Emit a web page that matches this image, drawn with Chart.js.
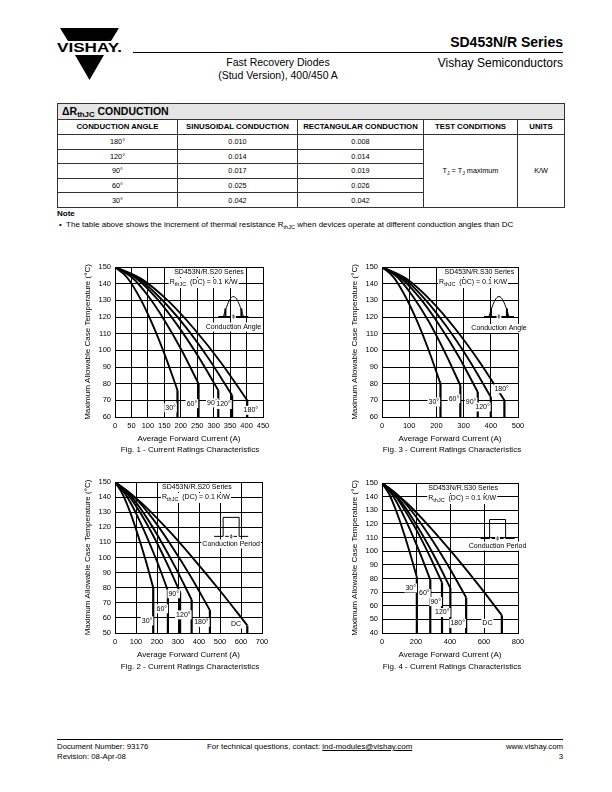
<!DOCTYPE html>
<html>
<head>
<meta charset="utf-8">
<script src="https://cdn.jsdelivr.net/npm/chart.js@4.4.0/dist/chart.umd.min.js"></script>
<style>
  body { margin: 0; background: #fff; font-family: "Liberation Sans", Arial, sans-serif; color: #000; }
  #page { position: relative; width: 612px; height: 792px; overflow: hidden; }
  .t { position: absolute; white-space: nowrap; line-height: 1; }
  .rule { position: absolute; background: #000; height: 1px; }
  canvas { position: absolute; }
  #tbl { position: absolute; left: 57px; top: 103px; width: 507px; border-collapse: collapse; table-layout: fixed; }
  #tbl td { border: 1px solid #333; padding: 0; text-align: center; font-size: 7.3px; line-height: 1; }
  #tbl tr.hdr td { background: #e4e4e4; text-align: left; font-weight: bold; font-size: 10.5px; padding-left: 4px; height: 15px; }
  #tbl tr.cols td { font-weight: bold; font-size: 7.8px; height: 14px; }
  #tbl tr.row td { height: 13.6px; }
  sub { font-size: 70%; vertical-align: -2px; line-height: 0; }
  #tbl tr.hdr sub { font-size: 75%; }
</style>
</head>
<body>
<div id="page">
  <svg class="t" style="left:55px;top:27px" width="70" height="56" viewBox="0 0 70 56">
    <polygon points="5,1 64,1 56,14 13,14" fill="#000"/>
    <text x="2" y="25" font-family="Liberation Sans, Arial" font-weight="bold" font-size="12.5" textLength="65" lengthAdjust="spacingAndGlyphs">VISHAY.</text>
    <polygon points="20,28 49,28 34.5,53" fill="#000"/>
  </svg>
  <div class="t" style="right:49px;top:35px;font-size:14px;font-weight:bold">SD453N/R Series</div>
  <div class="rule" style="left:133px;top:52px;width:430px"></div>
  <div class="t" style="left:178px;width:200px;text-align:center;top:57px;font-size:10.5px">Fast Recovery Diodes</div>
  <div class="t" style="left:178px;width:200px;text-align:center;top:70px;font-size:10.5px">(Stud Version), 400/450 A</div>
  <div class="t" style="right:49px;top:57px;font-size:12px">Vishay Semiconductors</div>

  <table id="tbl">
    <colgroup><col style="width:120px"><col style="width:120px"><col style="width:126px"><col style="width:94px"><col style="width:47px"></colgroup>
    <tbody id="tbody">
      <tr class="hdr"><td colspan="5">&#916;R<sub>thJC</sub> CONDUCTION</td></tr>
      <tr class="cols"><td>CONDUCTION ANGLE</td><td>SINUSOIDAL CONDUCTION</td><td>RECTANGULAR CONDUCTION</td><td>TEST CONDITIONS</td><td>UNITS</td></tr>
    </tbody>
  </table>
  <div class="t" style="left:57px;top:210px;font-size:8px;font-weight:bold">Note</div>
  <div class="t" style="left:59px;top:221px;font-size:8px">&#8226;&nbsp; The table above shows the increment of thermal resistance R<sub>thJC</sub> when devices operate at different conduction angles than DC</div>

  <canvas id="fig1" width="200" height="189" style="left:80px;top:258px"></canvas>
  <canvas id="fig3" width="200" height="189" style="left:347px;top:258px"></canvas>
  <canvas id="fig2" width="200" height="190" style="left:80px;top:473px"></canvas>
  <canvas id="fig4" width="200" height="189" style="left:347px;top:474px"></canvas>

  <div class="t" style="left:90px;width:200px;text-align:center;top:446px;font-size:8px">Fig. 1 - Current Ratings Characteristics</div>
  <div class="t" style="left:352px;width:200px;text-align:center;top:446px;font-size:8px">Fig. 3 - Current Ratings Characteristics</div>
  <div class="t" style="left:90px;width:200px;text-align:center;top:663px;font-size:8px">Fig. 2 - Current Ratings Characteristics</div>
  <div class="t" style="left:352px;width:200px;text-align:center;top:663px;font-size:8px">Fig. 4 - Current Ratings Characteristics</div>

  <div class="rule" style="left:57px;top:739px;width:506px"></div>
  <div class="t" style="left:57px;top:743px;font-size:7.8px">Document Number: 93176</div>
  <div class="t" style="left:57px;top:753px;font-size:7.8px">Revision: 08-Apr-08</div>
  <div class="t" style="left:207px;top:743px;font-size:7.9px">For technical questions, contact: <span style="text-decoration:underline">ind-modules@vishay.com</span></div>
  <div class="t" style="right:49px;top:743px;font-size:7.8px">www.vishay.com</div>
  <div class="t" style="right:49px;top:753px;font-size:7.8px">3</div>
</div>

<script>
// ---- table values ----
const tableAngles = ['180°', '120°', '90°', '60°', '30°'];
const tableSinusoidal = ['0.010', '0.014', '0.017', '0.025', '0.042'];
const tableRectangular = ['0.008', '0.014', '0.019', '0.026', '0.042'];

// ---- Fig. 1: S20, sinusoidal ----
const fig1Angles = ['30°', '60°', '90°', '120°', '180°'];
const fig1Current = [
  [0, 38, 76, 114, 152, 190],
  [0, 51, 102, 152, 203, 254],
  [0, 63, 126, 188, 251, 314],
  [0, 71, 142, 214, 285, 356],
  [0, 80, 161, 241, 322, 402]
];
const fig1Temp = [
  [150, 143.4, 131.3, 115.6, 97.0, 76],
  [150, 143.8, 132.3, 117.5, 99.9, 80],
  [150, 143.4, 131.3, 115.6, 97.0, 76],
  [150, 143.1, 130.5, 114.2, 94.9, 73],
  [150, 142.9, 129.8, 112.8, 92.7, 70]
];
const fig1XTicks = [0, 50, 100, 150, 200, 250, 300, 350, 400, 450];
const fig1YTicks = [60, 70, 80, 90, 100, 110, 120, 130, 140, 150];

// ---- Fig. 3: S30, sinusoidal ----
const fig3Angles = ['30°', '60°', '90°', '120°', '180°'];
const fig3Current = [
  [0, 43, 86, 129, 172, 215],
  [0, 58, 115, 173, 230, 288],
  [0, 70, 141, 211, 282, 352],
  [0, 80, 160, 240, 320, 400],
  [0, 90, 180, 270, 360, 450]
];
const fig3Temp = [
  [150, 143.8, 132.3, 117.5, 99.9, 80],
  [150, 143.7, 132.0, 117.0, 99.2, 79],
  [150, 143.3, 131.0, 115.1, 96.3, 75],
  [150, 143.1, 130.3, 113.7, 94.2, 72],
  [150, 142.9, 129.8, 112.8, 92.7, 70]
];
const fig3XTicks = [0, 100, 200, 300, 400, 500];
const fig3YTicks = [60, 70, 80, 90, 100, 110, 120, 130, 140, 150];

// ---- Fig. 2: S20, rectangular ----
const fig2Angles = ['30°', '60°', '90°', '120°', '180°', 'DC'];
const fig2Current = [
  [0, 36, 73, 109, 146, 182],
  [0, 50, 101, 151, 202, 252],
  [0, 62, 124, 186, 248, 310],
  [0, 73, 146, 219, 292, 365],
  [0, 90, 181, 271, 362, 452],
  [0, 126, 252, 378, 504, 630]
];
const fig2Temp = [
  [150, 142.0, 129.7, 114.9, 98.2, 80],
  [150, 141.8, 129.1, 113.9, 96.7, 78],
  [150, 141.7, 128.8, 113.4, 96.0, 77],
  [150, 141.1, 127.4, 110.8, 92.3, 72],
  [150, 140.3, 125.4, 107.3, 87.1, 65],
  [150, 136.2, 118.4, 98.5, 77.3, 55]
];
const fig2XTicks = [0, 100, 200, 300, 400, 500, 600, 700];
const fig2YTicks = [50, 60, 70, 80, 90, 100, 110, 120, 130, 140, 150];

// ---- Fig. 4: S30, rectangular ----
const fig4Angles = ['30°', '60°', '90°', '120°', '180°', 'DC'];
const fig4Current = [
  [0, 41, 82, 123, 164, 205],
  [0, 57, 114, 170, 227, 284],
  [0, 71, 141, 212, 282, 353],
  [0, 80, 161, 241, 322, 402],
  [0, 99, 198, 297, 396, 495],
  [0, 141, 282, 423, 564, 705]
];
const fig4Temp = [
  [150, 142.1, 130.0, 115.4, 98.9, 81],
  [150, 141.9, 129.4, 114.4, 97.5, 79],
  [150, 141.7, 128.8, 113.4, 96.0, 77],
  [150, 141.2, 127.7, 111.3, 93.0, 73],
  [150, 140.4, 125.6, 107.8, 87.8, 66],
  [150, 135.9, 117.7, 97.4, 75.8, 53]
];
const fig4XTicks = [0, 200, 400, 600, 800];
const fig4YTicks = [40, 50, 60, 70, 80, 90, 100, 110, 120, 130, 140, 150];

const FONT = '"Liberation Sans", Arial, sans-serif';

// table body
const tbody = document.getElementById('tbody');
tableAngles.forEach((a, i) => {
  const tr = document.createElement('tr');
  tr.className = 'row';
  let html = '<td>' + a + '</td><td>' + tableSinusoidal[i] + '</td><td>' + tableRectangular[i] + '</td>';
  if (i === 0) html += '<td rowspan="5">T<sub>J</sub> = T<sub>J</sub> maximum</td><td rowspan="5">K/W</td>';
  tr.innerHTML = html;
  tbody.appendChild(tr);
});

function tag(ctx, text, x, y, align) {
  const w = ctx.measureText(text).width;
  const x0 = align === 'left' ? x : align === 'right' ? x - w : x - w / 2;
  ctx.fillStyle = '#fff';
  ctx.fillRect(x0 - 1, y - 4.5, w + 2, 9);
  ctx.fillStyle = '#000';
  ctx.textAlign = 'left';
  ctx.textBaseline = 'middle';
  ctx.fillText(text, x0, y);
}

function rthLine(ctx, x, y) {
  const parts = [['R', 7, 0], ['thJC', 5.5, 2], ['  (DC) = 0.1 K/W', 7, 0]];
  let w = 0;
  parts.forEach(p => { ctx.font = p[1] + 'px ' + FONT; w += ctx.measureText(p[0]).width; });
  ctx.fillStyle = '#fff';
  ctx.fillRect(x - 1, y - 4.5, w + 2, 10);
  ctx.fillStyle = '#000';
  ctx.textBaseline = 'middle';
  ctx.textAlign = 'left';
  let cx = x;
  parts.forEach(p => {
    ctx.font = p[1] + 'px ' + FONT;
    ctx.fillText(p[0], cx, y + p[2]);
    cx += ctx.measureText(p[0]).width;
  });
}

function icon(ctx, kind, cx, base, label, ly) {
  ctx.strokeStyle = '#000';
  ctx.fillStyle = '#000';
  ctx.lineWidth = 1;
  const hw = kind === 'sine' ? 10 : 8;
  ctx.beginPath();
  if (kind === 'sine') {
    for (let k = 0; k <= 20; k++) {
      const px = cx - hw + (2 * hw * k) / 20;
      const py = base - 20 * Math.sin(Math.PI * k / 20);
      if (k === 0) ctx.moveTo(px, py); else ctx.lineTo(px, py);
    }
    ctx.stroke();
    ctx.lineWidth = 2;
    ctx.beginPath();
    ctx.moveTo(cx - hw + 2, base - 8); ctx.lineTo(cx - hw + 2, base);
    ctx.moveTo(cx + hw - 2, base - 8); ctx.lineTo(cx + hw - 2, base);
    ctx.stroke();
    ctx.lineWidth = 1;
    ctx.beginPath();
    ctx.moveTo(cx - hw - 5, base); ctx.lineTo(cx + hw + 5, base);
    ctx.stroke();
  } else {
    ctx.moveTo(cx - hw - 9, base); ctx.lineTo(cx - hw, base); ctx.lineTo(cx - hw, base - 19);
    ctx.lineTo(cx + hw, base - 19); ctx.lineTo(cx + hw, base); ctx.lineTo(cx + hw + 9, base);
    ctx.stroke();
    ctx.beginPath();
    ctx.moveTo(cx - hw + 2, base); ctx.lineTo(cx + hw - 2, base);
    ctx.stroke();
  }
  ctx.font = '5px ' + FONT;
  tag(ctx, 'ϕ', cx, base, 'center');
  ctx.font = '7px ' + FONT;
  tag(ctx, label, cx, ly, 'center');
}

function notes(o) {
  return {
    id: 'notes',
    afterDatasetsDraw(chart) {
      const ctx = chart.ctx, a = chart.chartArea;
      const xs = chart.scales.x, ys = chart.scales.y;
      const w = a.right - a.left, h = a.bottom - a.top;
      ctx.save();
      ctx.font = '7px ' + FONT;
      tag(ctx, o.series, a.left + o.seriesAt[0] * w, a.top + 5.5, 'left');
      rthLine(ctx, a.left + o.seriesAt[1] * w, a.top + 15.5);
      icon(ctx, o.icon, a.left + o.iconAt[0] * w, a.top + o.iconAt[1] * h,
        o.icon === 'sine' ? 'Conduction Angle' : 'Conduction Period', a.top + o.iconAt[2] * h);
      ctx.font = '7px ' + FONT;
      o.angles.forEach((t, i) => {
        tag(ctx, t, xs.getPixelForValue(o.labelX[i]), ys.getPixelForValue(o.labelY[i]), o.labelAlign[i]);
      });
      ctx.restore();
    }
  };
}

function buildChart(id, o) {
  const yMin = o.yTicks[0];
  const datasets = [];
  o.current.forEach((xsArr, i) => {
    const pts = xsArr.map((x, j) => ({ x: x, y: o.temp[i][j] }));
    datasets.push({ data: pts, borderColor: '#000', borderWidth: 1.9, pointRadius: 0, showLine: true, cubicInterpolationMode: 'monotone' });
    const last = pts[pts.length - 1];
    datasets.push({ data: [last, { x: last.x, y: yMin }], borderColor: '#000', borderWidth: 2.2, pointRadius: 0, showLine: true });
  });
  const tickFont = { family: FONT, size: 7.5 };
  const titleFont = { family: FONT, size: 8 };
  new Chart(document.getElementById(id), {
    type: 'scatter',
    data: { datasets: datasets },
    options: {
      responsive: false,
      animation: false,
      devicePixelRatio: 1,
      events: [],
      layout: { padding: { top: 9, right: o.padRight, left: 0, bottom: 0 } },
      plugins: { legend: { display: false }, tooltip: { enabled: false } },
      scales: {
        x: {
          type: 'linear',
          min: o.xTicks[0], max: o.xTicks[o.xTicks.length - 1],
          afterBuildTicks: s => { s.ticks = o.xTicks.map(v => ({ value: v })); },
          afterFit: s => { s.height = 30; },
          grid: { color: '#000', lineWidth: 1, drawTicks: false },
          border: { color: '#000', width: 1 },
          ticks: { color: '#000', font: tickFont, padding: 4, maxRotation: 0, autoSkip: false },
          title: { display: true, text: 'Average Forward Current (A)', color: '#000', font: titleFont, padding: { top: 0, bottom: 3 } }
        },
        y: {
          type: 'linear',
          min: o.yTicks[0], max: o.yTicks[o.yTicks.length - 1],
          afterBuildTicks: s => { s.ticks = o.yTicks.map(v => ({ value: v })); },
          afterFit: s => { s.width = 35; },
          grid: { color: '#000', lineWidth: 1, drawTicks: false },
          border: { color: '#000', width: 1 },
          ticks: { color: '#000', font: tickFont, padding: 4, autoSkip: false },
          title: { display: true, text: 'Maximum Allowable Case Temperature (°C)', color: '#000', font: titleFont, padding: { top: 3, bottom: 0 } }
        }
      }
    },
    plugins: [notes(o)]
  });
}

buildChart('fig1', {
  current: fig1Current, temp: fig1Temp, xTicks: fig1XTicks, yTicks: fig1YTicks, padRight: 17,
  series: 'SD453N/R.S20 Series', seriesAt: [0.40, 0.37], icon: 'sine', iconAt: [0.80, 0.33, 0.40],
  angles: fig1Angles, labelX: [185, 250, 312, 352, 413], labelY: [65.5, 68, 68.5, 67.5, 64],
  labelAlign: ['right', 'right', 'right', 'right', 'center']
});
buildChart('fig3', {
  current: fig3Current, temp: fig3Temp, xTicks: fig3XTicks, yTicks: fig3YTicks, padRight: 29,
  series: 'SD453N/R.S30 Series', seriesAt: [0.46, 0.42], icon: 'sine', iconAt: [0.86, 0.33, 0.41],
  angles: fig3Angles, labelX: [210, 284, 347, 396, 440], labelY: [69, 71, 69, 66, 77],
  labelAlign: ['right', 'right', 'right', 'right', 'center']
});
buildChart('fig2', {
  current: fig2Current, temp: fig2Temp, xTicks: fig2XTicks, yTicks: fig2YTicks, padRight: 18,
  series: 'SD453N/R.S20 Series', seriesAt: [0.32, 0.32], icon: 'rect', iconAt: [0.79, 0.36, 0.41],
  angles: fig2Angles, labelX: [178, 248, 305, 360, 446, 600], labelY: [58, 66, 76, 62, 57, 56],
  labelAlign: ['right', 'right', 'right', 'right', 'right', 'right']
});
buildChart('fig4', {
  current: fig4Current, temp: fig4Temp, xTicks: fig4XTicks, yTicks: fig4YTicks, padRight: 29,
  series: 'SD453N/R.S30 Series', seriesAt: [0.34, 0.34], icon: 'rect', iconAt: [0.85, 0.37, 0.42],
  angles: fig4Angles, labelX: [200, 280, 347, 397, 488, 620], labelY: [73, 69, 63, 55, 47, 47],
  labelAlign: ['right', 'right', 'right', 'right', 'right', 'center']
});
</script>
</body>
</html>
